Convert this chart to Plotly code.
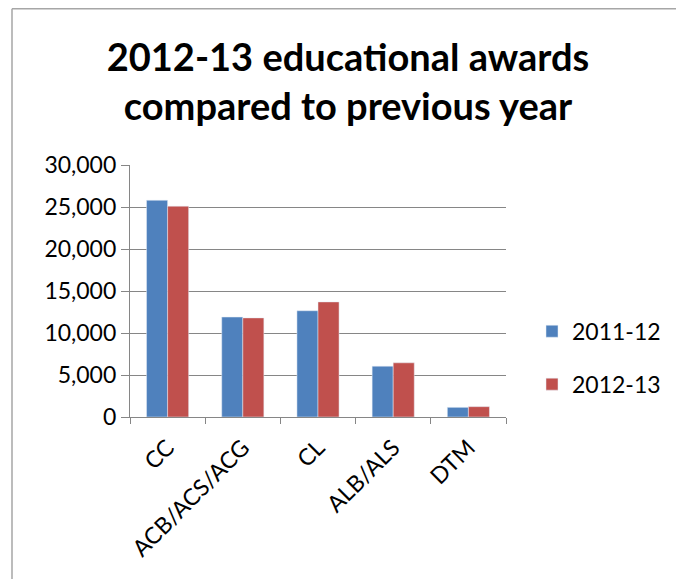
import plotly.graph_objects as go

BLUE = "#4F81BD"
RED = "#C0504D"
GRID = "#868686"
FONT = "Lato"

categories = ["CC", "ACB/ACS/ACG", "CL", "ALB/ALS", "DTM"]
awards_2011_12 = [25800, 11900, 12650, 6050, 1150]
awards_2012_13 = [25100, 11800, 13700, 6450, 1230]

# the page body adds an 8px margin, so figure pixels = screen pixels - 8
W, H = 676, 571
L, R, T, B = 122, 178, 157, 162
plot_w, plot_h = W - L - R, H - T - B

fig = go.Figure()
fig.add_trace(go.Bar(x=categories, y=awards_2011_12, name="2011-12",
                     marker_color=BLUE, legendgroup="a"))
fig.add_trace(go.Bar(x=categories, y=awards_2012_13, name="2012-13",
                     marker_color=RED, legendgroup="b"))

# outer chart border (only the left and top edges are visible in the crop)
bx = (4 - L) / plot_w
by = (H - B - 0.8) / plot_h
fig.add_shape(type="line", xref="paper", yref="paper", x0=bx, x1=bx, y0=-2, y1=by,
              line=dict(color="#A6A6A6", width=1.5))
fig.add_shape(type="line", xref="paper", yref="paper", x0=bx, x1=3, y0=by, y1=by,
              line=dict(color="#A6A6A6", width=1.5))

fig.update_layout(
    width=W, height=H,
    margin=dict(l=L, r=R, t=T, b=B),
    paper_bgcolor="white", plot_bgcolor="white",
    font=dict(family=FONT, size=23, color="black"),
    title=dict(text="<b>2012-13 educational awards<br>compared to previous year</b>",
               x=340 / W, xanchor="center", xref="container",
               y=1 - 63 / H, yanchor="top", yref="container",
               font=dict(family=FONT, size=38, color="black")),
    barmode="group", bargap=0.44, bargroupgap=0,
    legend=dict(x=(532 - 130) / plot_w, xanchor="left", y=0.235, yanchor="middle",
                traceorder="grouped", tracegroupgap=20,
                font=dict(family=FONT, size=23), bgcolor="rgba(0,0,0,0)"),
    showlegend=True,
)
fig.update_yaxes(range=[0, 30000], dtick=5000, tickformat=",",
                 showgrid=True, gridcolor=GRID, gridwidth=1.2,
                 showline=True, linecolor=GRID, linewidth=1.2,
                 ticks="outside", ticklen=8, tickcolor=GRID, tickwidth=1.2,
                 zeroline=False, fixedrange=True)
fig.update_xaxes(tickangle=-45, tickson="boundaries", ticklabelstandoff=7,
                 showline=True, linecolor=GRID, linewidth=1.2,
                 ticks="outside", ticklen=6, tickcolor=GRID, tickwidth=1.2,
                 showgrid=False)

fig.write_html("out.html")
